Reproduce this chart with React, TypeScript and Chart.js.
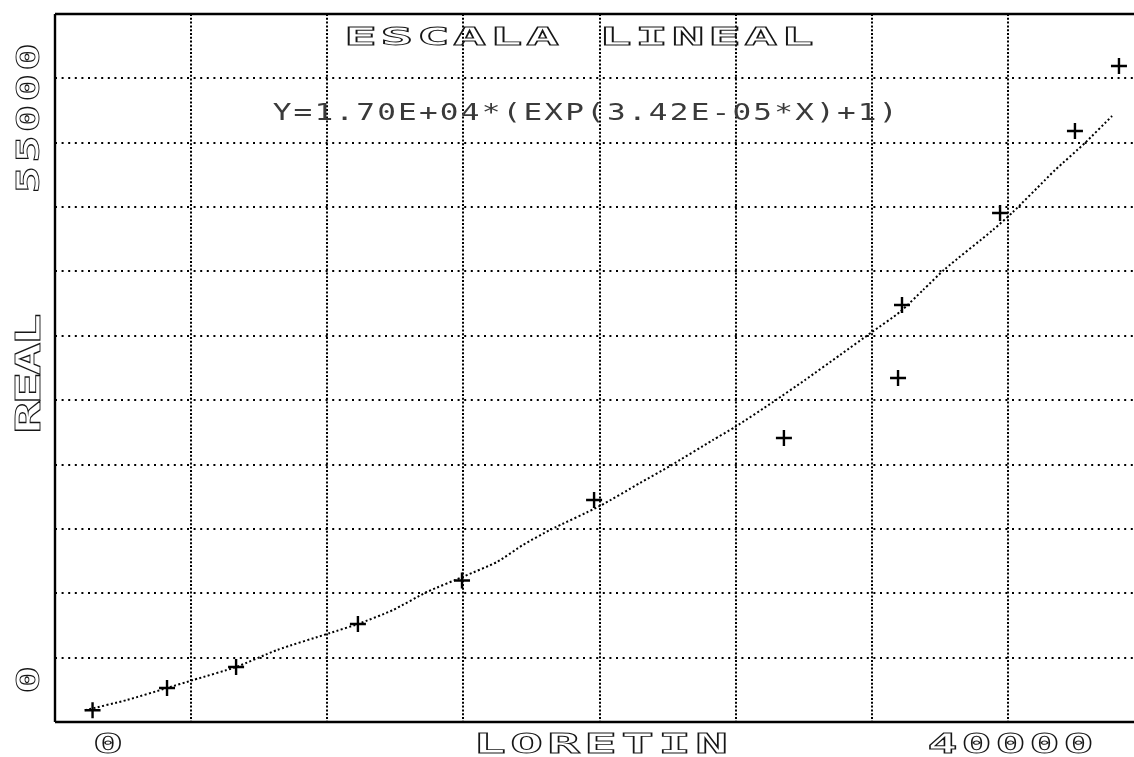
import { useEffect, useRef } from "react";
import { Chart, registerables } from "chart.js";

Chart.register(...registerables);

// Observed pairs (LORETIN, REAL)
const observedX = [0, 3570, 6880, 12720, 17710, 24040, 33140, 38610, 38800, 43500, 47090, 49200];
const observedY = [0, 2440, 4750, 9480, 14270, 23130, 29950, 36550, 44580, 54710, 63730, 70880];

// Fitted exponential curve, traced as a polyline
const fitX = [
  -360, 1650, 3570, 4820, 6880, 8840, 11380, 12720, 14400, 16030, 17850, 19390, 20630, 21930,
  24320, 26240, 27680, 29740, 30800, 32620, 34150, 35830, 37360, 38700, 39810, 40860, 43160,
  44120, 45660, 46140, 47570, 48870,
];
const fitY = [
  0, 1120, 2440, 3320, 4750, 6620, 8490, 9480, 11020, 13010, 14770, 16310, 18180, 19830,
  22470, 25000, 26870, 29730, 31160, 33910, 36330, 39080, 41610, 43810, 46230, 48540, 52840,
  54820, 58340, 59440, 62410, 65380,
];

// Axis labels
const xTickValues = [0, 40000];
const xTickLabels = ["0", "40000"];
const yTickValues = [0, 55000];
const yTickLabels = ["0", "55000"];

const titleText = "ESCALA LINEAL";
const equationText = "Y=1.70E+04*(EXP(3.42E-05*X)+1)";
const xAxisTitle = "LORETIN";
const yAxisTitle = "REAL";

// Axis ranges and grid divisions
const X_MIN = -1800;
const X_MAX = 50400;
const Y_MIN = -1300;
const Y_MAX = 76600;
const X_DIVISIONS = 8;
const Y_DIVISIONS = 11;

const FONT_FAMILY = "'DejaVu Sans Mono', 'Liberation Mono', monospace";
const INK = "#161616";

// Draws text one glyph at a time on a fixed pitch, stretched to a plotter-like box shape.
function drawPlotterText(
  ctx: CanvasRenderingContext2D,
  text: string,
  x: number,
  y: number,
  pitch: number,
  glyphW: number,
  glyphH: number,
  opts: { rotated?: boolean; outline?: boolean; weight?: string; color?: string } = {}
) {
  const weight = opts.weight ?? "normal";
  ctx.save();
  ctx.font = `${weight} 100px ${FONT_FAMILY}`;
  const ref = ctx.measureText("E");
  const capRatio = ref.actualBoundingBoxAscent / 100;
  const inkRatio = (ref.actualBoundingBoxRight + ref.actualBoundingBoxLeft) / 100;
  const size = glyphH / capRatio;
  const sx = glyphW / (inkRatio * size);
  ctx.translate(x, y);
  if (opts.rotated) ctx.rotate(-Math.PI / 2);
  ctx.font = `${weight} ${size}px ${FONT_FAMILY}`;
  ctx.textAlign = "center";
  ctx.textBaseline = "alphabetic";
  ctx.fillStyle = opts.color ?? INK;
  ctx.strokeStyle = opts.color ?? INK;
  ctx.lineWidth = 0.9;
  for (let i = 0; i < text.length; i++) {
    const ch = text[i];
    if (ch === " ") continue;
    ctx.save();
    ctx.translate(i * pitch + glyphW / 2, 0);
    ctx.scale(sx, 1);
    if (opts.outline) ctx.strokeText(ch, 0, 0);
    else ctx.fillText(ch, 0, 0);
    ctx.restore();
  }
  ctx.restore();
}

const plotterDecor = {
  id: "plotterDecor",
  afterDraw(chart: any) {
    const { ctx, chartArea: a, scales } = chart;
    const xs = scales.x;
    const ys = scales.y;

    // frame: top, left and bottom edges
    ctx.save();
    ctx.strokeStyle = "#000";
    ctx.lineWidth = 2.4;
    ctx.beginPath();
    ctx.moveTo(a.left, a.top);
    ctx.lineTo(a.right, a.top);
    ctx.moveTo(a.left, a.top);
    ctx.lineTo(a.left, a.bottom);
    ctx.moveTo(a.left, a.bottom);
    ctx.lineTo(a.right, a.bottom);
    ctx.stroke();
    ctx.restore();

    // title and fitted equation inside the frame
    drawPlotterText(ctx, titleText, 348, 45, 36.4, 25, 18, { outline: true, weight: "bold" });
    drawPlotterText(ctx, equationText, 275, 120, 20.9, 14, 17, { color: "#3a3a3a" });

    // x tick labels, starting at their value
    xTickValues.forEach((v, i) => {
      drawPlotterText(ctx, xTickLabels[i], xs.getPixelForValue(v) + 4, 753, 34, 23, 20, {
        outline: true,
        weight: "bold",
      });
    });
    // y tick labels, reading upwards
    yTickValues.forEach((v, i) => {
      drawPlotterText(ctx, yTickLabels[i], 39, ys.getPixelForValue(v) - 20, 30.7, 21, 23, {
        rotated: true,
        outline: true,
        weight: "bold",
      });
    });

    // axis titles
    drawPlotterText(ctx, xAxisTitle, 477, 753, 37, 25, 20, { outline: true, weight: "bold" });
    drawPlotterText(ctx, yAxisTitle, 40, 430, 29.3, 25, 24, {
      rotated: true,
      outline: true,
      weight: "bold",
    });
  },
};

function evenTicks(divisions: number) {
  return (axis: any) => {
    axis.ticks = Array.from({ length: divisions + 1 }, (_, i) => ({
      value: axis.min + ((axis.max - axis.min) * i) / divisions,
    }));
  };
}

export default function App() {
  const canvasRef = useRef<HTMLCanvasElement | null>(null);

  useEffect(() => {
    const canvas = canvasRef.current;
    if (!canvas) return;
    const chart = new Chart(canvas, {
      type: "scatter",
      data: {
        datasets: [
          {
            label: "ajuste",
            data: fitX.map((x, i) => ({ x, y: fitY[i] })),
            showLine: true,
            borderColor: "#000",
            borderWidth: 2,
            borderDash: [2, 2.4],
            pointRadius: 0,
            tension: 0.2,
            order: 2,
          },
          {
            label: "REAL",
            data: observedX.map((x, i) => ({ x, y: observedY[i] })),
            showLine: false,
            pointStyle: "cross",
            pointRadius: 8,
            pointBorderWidth: 2.4,
            borderColor: "#000",
            backgroundColor: "#000",
            order: 1,
          },
        ],
      },
      options: {
        responsive: false,
        animation: false,
        devicePixelRatio: 1,
        layout: { padding: { left: 55, top: 14, right: 16, bottom: 35 } },
        plugins: {
          legend: { display: false },
          tooltip: { enabled: false },
          title: { display: false },
        },
        scales: {
          x: {
            type: "linear",
            min: X_MIN,
            max: X_MAX,
            afterBuildTicks: evenTicks(X_DIVISIONS),
            afterFit: (s: any) => {
              s.height = 0;
            },
            ticks: { display: false },
            grid: { color: "#000", lineWidth: 2, drawTicks: false },
            border: { display: false, dash: [2, 1.8] },
          },
          y: {
            type: "linear",
            min: Y_MIN,
            max: Y_MAX,
            afterBuildTicks: evenTicks(Y_DIVISIONS),
            afterFit: (s: any) => {
              s.width = 0;
            },
            ticks: { display: false },
            grid: { color: "#000", lineWidth: 2, drawTicks: false },
            border: { display: false, dash: [2, 4.6] },
          },
        },
      },
      plugins: [plotterDecor],
    });
    return () => chart.destroy();
  }, []);

  return (
    <div
      style={{
        position: "fixed",
        left: 0,
        top: 0,
        width: 1134,
        height: 757,
        overflow: "hidden",
        background: "#fff",
      }}
    >
      <canvas ref={canvasRef} width={1160} height={757} style={{ width: 1160, height: 757 }} />
    </div>
  );
}
